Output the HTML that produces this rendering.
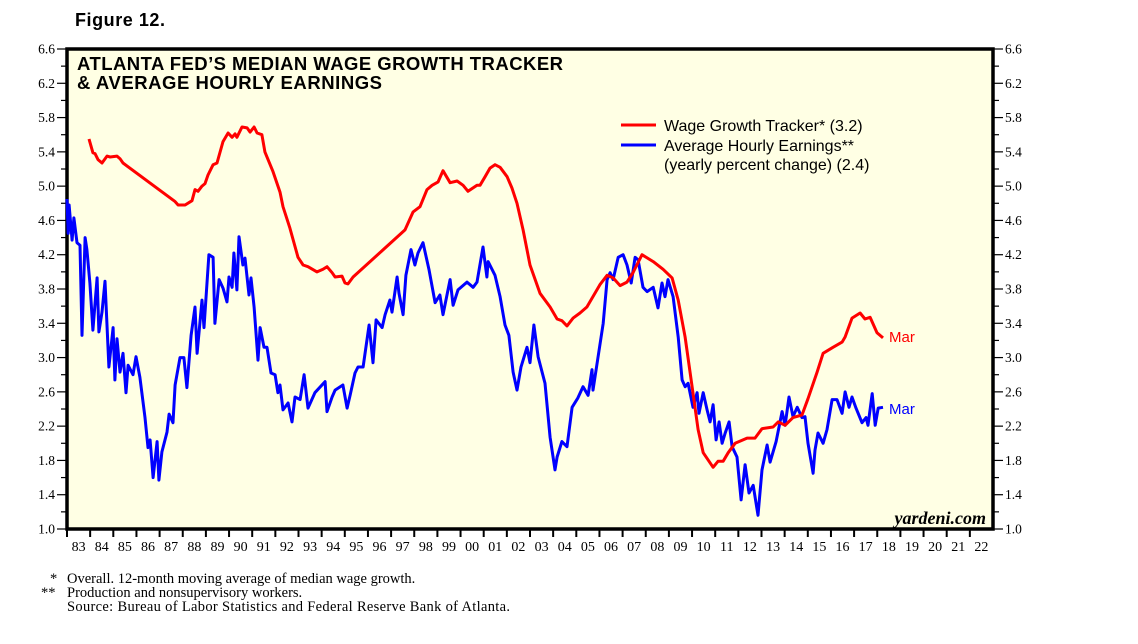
<!DOCTYPE html>
<html><head><meta charset="utf-8"><style>
html,body{margin:0;padding:0;background:#fff;}
svg{display:block;}
</style></head><body>
<svg id="chart" width="1138" height="644" xmlns="http://www.w3.org/2000/svg">
<text x="75" y="26" font-family="Liberation Sans, sans-serif" font-weight="bold" font-size="18" textLength="90">Figure 12.</text>
<rect x="67" y="49" width="926" height="480" fill="#FFFFE4" stroke="#000" stroke-width="3.5"/>
<text font-family="Liberation Sans, sans-serif" font-weight="bold" font-size="18.5"><tspan x="77" y="70" textLength="486">ATLANTA FED’S MEDIAN WAGE GROWTH TRACKER</tspan><tspan x="77" y="89" textLength="305">&amp; AVERAGE HOURLY EARNINGS</tspan></text>
<g id="axes"></g>
<g id="series"></g>
<g font-family="Liberation Sans, sans-serif" font-size="16">
<line x1="621" y1="125" x2="656" y2="125" stroke="#f00" stroke-width="3"/>
<text x="664" y="131">Wage Growth Tracker* (3.2)</text>
<line x1="621" y1="145" x2="656" y2="145" stroke="#00f" stroke-width="3"/>
<text x="664" y="151">Average Hourly Earnings**</text>
<text x="664" y="170">(yearly percent change) (2.4)</text>
</g>
<text x="889" y="342" fill="#f00" font-family="Liberation Sans, sans-serif" font-size="15">Mar</text>
<text x="889" y="414" fill="#00f" font-family="Liberation Sans, sans-serif" font-size="15">Mar</text>
<text x="986" y="524" text-anchor="end" font-family="Liberation Serif, serif" font-style="italic" font-weight="bold" font-size="18">yardeni.com</text>
<g font-family="Liberation Serif, serif" font-size="14.5">
<text x="50" y="583">*</text>
<text x="67" y="583">Overall. 12-month moving average of median wage growth.</text>
<text x="41" y="597">**</text>
<text x="67" y="597">Production and nonsupervisory workers.</text>
<text x="67" y="611" textLength="443">Source: Bureau of Labor Statistics and Federal Reserve Bank of Atlanta.</text>
</g>
</svg>
<script>
const yTickValues=[1.0,1.4,1.8,2.2,2.6,3.0,3.4,3.8,4.2,4.6,5.0,5.4,5.8,6.2,6.6];
const xYearLabels=["83","84","85","86","87","88","89","90","91","92","93","94","95","96","97","98","99","00","01","02","03","04","05","06","07","08","09","10","11","12","13","14","15","16","17","18","19","20","21","22"];
const wageYears=[1983.95,1984.12,1984.21,1984.34,1984.51,1984.73,1984.86,1985.16,1985.29,1985.42,1987.67,1987.80,1988.10,1988.40,1988.53,1988.66,1988.83,1988.96,1989.09,1989.31,1989.48,1989.74,1989.96,1990.13,1990.26,1990.34,1990.56,1990.78,1990.91,1991.08,1991.21,1991.42,1991.55,1991.90,1992.20,1992.33,1992.63,1992.98,1993.20,1993.41,1993.80,1994.06,1994.23,1994.45,1994.58,1994.88,1995.01,1995.14,1995.36,1997.60,1997.95,1998.25,1998.55,1998.77,1999.03,1999.24,1999.55,1999.85,2000.11,2000.32,2000.71,2000.84,2001.06,2001.27,2001.49,2001.71,2002.01,2002.22,2002.44,2002.70,2003.00,2003.43,2003.87,2004.17,2004.38,2004.60,2004.86,2005.16,2005.46,2006.02,2006.33,2006.59,2006.89,2007.19,2007.45,2007.84,2008.32,2008.75,2009.14,2009.40,2009.70,2010.00,2010.26,2010.48,2010.91,2011.12,2011.34,2011.56,2011.86,2012.38,2012.72,2013.02,2013.50,2013.72,2014.02,2014.36,2014.75,2015.01,2015.40,2015.66,2016.09,2016.48,2016.61,2016.91,2017.26,2017.47,2017.69,2017.99,2018.25];
const wageValues=[5.55,5.39,5.38,5.31,5.27,5.35,5.34,5.35,5.32,5.27,4.82,4.78,4.78,4.83,4.96,4.94,5.00,5.03,5.13,5.25,5.27,5.52,5.62,5.57,5.61,5.57,5.69,5.68,5.63,5.69,5.62,5.60,5.40,5.17,4.93,4.76,4.51,4.17,4.08,4.06,4.00,4.03,4.06,3.99,3.94,3.95,3.87,3.86,3.94,4.49,4.70,4.76,4.96,5.01,5.05,5.18,5.04,5.06,5.01,4.94,5.01,5.01,5.11,5.21,5.25,5.22,5.11,4.98,4.80,4.49,4.08,3.75,3.59,3.45,3.43,3.37,3.46,3.52,3.59,3.85,3.96,3.93,3.84,3.88,3.99,4.20,4.12,4.03,3.93,3.67,3.24,2.66,2.16,1.89,1.72,1.79,1.79,1.89,2.00,2.06,2.06,2.17,2.19,2.25,2.21,2.30,2.33,2.52,2.83,3.05,3.12,3.18,3.24,3.46,3.52,3.45,3.47,3.29,3.23];
const aheYears=[1983.00,1983.05,1983.09,1983.22,1983.30,1983.43,1983.56,1983.65,1983.78,1983.86,1983.99,1984.12,1984.30,1984.38,1984.51,1984.64,1984.81,1984.99,1985.07,1985.16,1985.29,1985.42,1985.55,1985.64,1985.85,1985.98,1986.15,1986.37,1986.50,1986.59,1986.72,1986.89,1986.97,1987.10,1987.32,1987.41,1987.58,1987.67,1987.88,1988.05,1988.18,1988.36,1988.53,1988.62,1988.83,1988.92,1989.13,1989.31,1989.39,1989.57,1989.74,1989.91,1990.00,1990.13,1990.21,1990.34,1990.43,1990.60,1990.69,1990.86,1990.95,1991.08,1991.25,1991.34,1991.51,1991.64,1991.81,1991.99,1992.11,1992.20,1992.33,1992.55,1992.72,1992.85,1993.07,1993.24,1993.41,1993.71,1994.15,1994.23,1994.45,1994.58,1994.92,1995.10,1995.23,1995.44,1995.57,1995.79,1996.05,1996.22,1996.35,1996.61,1996.74,1996.95,1997.04,1997.26,1997.34,1997.52,1997.64,1997.86,1998.03,1998.16,1998.38,1998.64,1998.90,1999.11,1999.24,1999.55,1999.68,1999.89,2000.28,2000.54,2000.71,2000.97,2001.14,2001.19,2001.49,2001.71,2001.92,2002.09,2002.27,2002.44,2002.61,2002.87,2003.00,2003.17,2003.35,2003.65,2003.87,2004.08,2004.17,2004.38,2004.60,2004.82,2005.07,2005.29,2005.51,2005.68,2005.72,2005.94,2006.16,2006.33,2006.46,2006.59,2006.81,2007.02,2007.19,2007.37,2007.54,2007.67,2007.88,2008.06,2008.32,2008.53,2008.70,2008.83,2008.96,2009.18,2009.40,2009.57,2009.70,2009.83,2010.04,2010.22,2010.30,2010.48,2010.65,2010.78,2010.91,2011.04,2011.17,2011.30,2011.43,2011.60,2011.73,2011.94,2012.12,2012.29,2012.46,2012.64,2012.85,2013.02,2013.24,2013.37,2013.63,2013.89,2014.02,2014.19,2014.36,2014.54,2014.75,2014.88,2015.01,2015.23,2015.31,2015.44,2015.66,2015.83,2016.05,2016.26,2016.48,2016.61,2016.78,2016.91,2017.08,2017.34,2017.52,2017.60,2017.78,2017.91,2018.04,2018.25];
const aheValues=[4.85,4.45,4.78,4.37,4.63,4.34,4.31,3.26,4.40,4.26,3.87,3.32,3.93,3.30,3.53,3.89,2.89,3.35,2.74,3.22,2.83,3.05,2.59,2.91,2.80,3.01,2.77,2.30,1.95,2.04,1.60,2.02,1.57,1.90,2.13,2.34,2.24,2.68,3.00,3.00,2.65,3.26,3.59,3.05,3.67,3.35,4.20,4.17,3.40,3.91,3.81,3.65,3.94,3.82,4.22,3.79,4.41,4.08,4.16,3.73,3.93,3.59,2.97,3.35,3.12,3.12,2.82,2.80,2.59,2.68,2.39,2.47,2.25,2.54,2.51,2.80,2.41,2.59,2.72,2.37,2.54,2.62,2.68,2.41,2.56,2.82,2.89,2.89,3.38,2.94,3.44,3.35,3.50,3.67,3.53,3.94,3.75,3.50,3.96,4.26,4.08,4.22,4.34,4.02,3.64,3.73,3.50,3.91,3.61,3.79,3.88,3.82,3.88,4.29,3.94,4.12,3.96,3.71,3.38,3.26,2.83,2.62,2.89,3.12,2.94,3.38,3.01,2.70,2.07,1.69,1.84,2.02,1.96,2.42,2.53,2.66,2.56,2.86,2.62,3.01,3.40,3.91,3.99,3.91,4.17,4.20,4.08,3.87,4.17,4.14,3.82,3.77,3.82,3.58,3.87,3.71,3.91,3.71,3.24,2.74,2.66,2.70,2.42,2.59,2.35,2.59,2.39,2.25,2.45,2.04,2.25,2.00,2.12,2.25,1.96,1.84,1.34,1.75,1.42,1.51,1.16,1.69,1.98,1.78,2.02,2.37,2.21,2.54,2.31,2.42,2.30,2.31,2.00,1.65,1.92,2.12,2.00,2.16,2.51,2.51,2.35,2.60,2.42,2.54,2.41,2.24,2.30,2.21,2.58,2.21,2.41,2.42];

const NS="http://www.w3.org/2000/svg";
const X0=67,X1=993,Y0=529,Y1=49,YMIN=1.0,YMAX=6.6,XMIN=1983,XMAX=2023;
function xScale(yr){return X0+(yr-XMIN)/(XMAX-XMIN)*(X1-X0);}
function yScale(v){return Y0-(v-YMIN)/(YMAX-YMIN)*(Y0-Y1);}
function mk(tag,attrs,parent){const e=document.createElementNS(NS,tag);for(const k in attrs)e.setAttribute(k,attrs[k]);parent.appendChild(e);return e;}
const axes=document.getElementById('axes');
for(let i=0;i<=28;i++){
  const v=YMIN+i*0.2, y=yScale(v), major=(i%2===0);
  const l=mk('line',{x1:major?57:61,y1:y,x2:X0,y2:y,stroke:'#000','stroke-width':1.2},axes);
  
  
  const r=mk('line',{x1:X1,y1:y,x2:major?1003:999,y2:y,stroke:'#000','stroke-width':1.2},axes);
  
  
}
yTickValues.forEach(v=>{
  const y=yScale(v)+4.5;
  const t=mk('text',{x:55,y:y,'text-anchor':'end','font-family':'Liberation Serif, serif','font-size':13.5},axes);
  t.textContent=v.toFixed(1);
  
  
  const t2=mk('text',{x:1005,y:y,'font-family':'Liberation Serif, serif','font-size':13.5},axes);
  t2.textContent=v.toFixed(1);
  
  
});
xYearLabels.forEach((lab,i)=>{
  const yr=XMIN+i;
  const tk=mk('line',{x1:xScale(yr),y1:Y0,x2:xScale(yr),y2:Y0+8,stroke:'#000','stroke-width':2},axes);
  
  
  const t=mk('text',{x:xScale(yr+0.5),y:551,'text-anchor':'middle','font-family':'Liberation Serif, serif','font-size':14},axes);
  t.textContent=lab;
  
  
});
const ser=document.getElementById('series');
function pathFrom(xs,ys){return xs.map((x,i)=>(i?'L':'M')+xScale(x).toFixed(1)+','+yScale(ys[i]).toFixed(1)).join(' ');}
const pb=mk('path',{d:pathFrom(aheYears,aheValues),fill:'none',stroke:'#0000ff','stroke-width':3,'stroke-linejoin':'round'},ser);


const pr=mk('path',{d:pathFrom(wageYears,wageValues),fill:'none',stroke:'#ff0000','stroke-width':3,'stroke-linejoin':'round'},ser);


</script>
</body></html>
